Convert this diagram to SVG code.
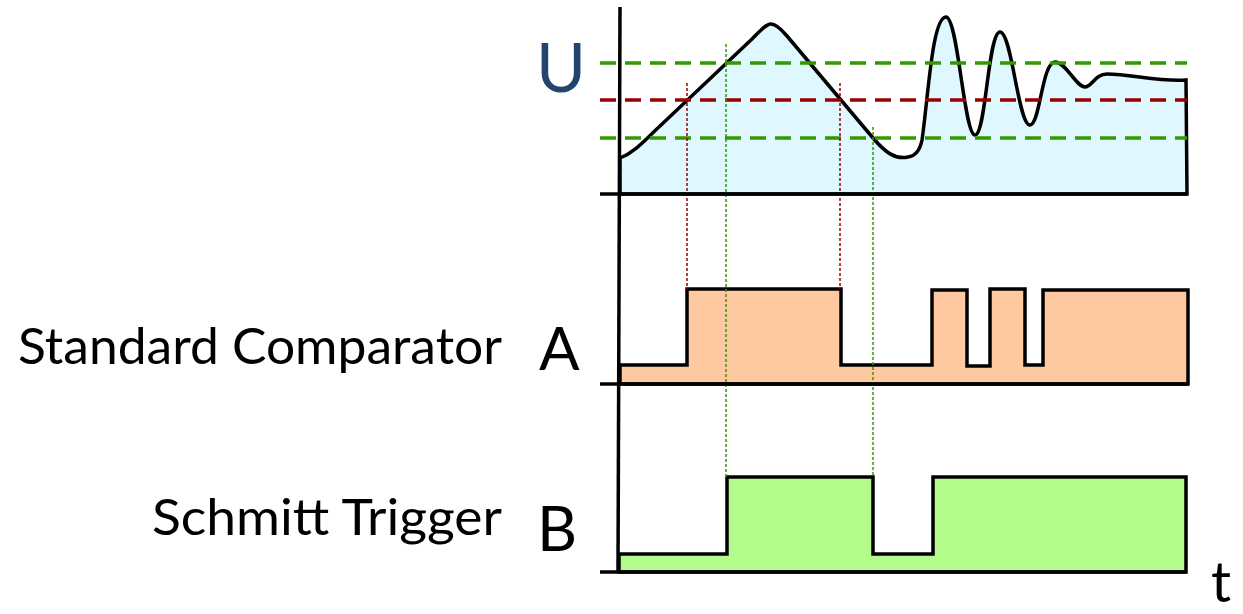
<svg xmlns="http://www.w3.org/2000/svg" width="1243" height="614" viewBox="0 0 1243 614">
<style>
.lbl{font-family:Lato,"Noto Sans",sans-serif;fill:#000}
.ax{stroke:#000;stroke-width:3.5;fill:none}
.wave{stroke:#000;stroke-width:3.5;stroke-linejoin:miter}
.hg{stroke:#339900;stroke-width:3.5;stroke-dasharray:16 9;fill:none}
.hr{stroke:#990000;stroke-width:3.5;stroke-dasharray:16 9;fill:none}
.vg{stroke:#339900;stroke-width:1.5;stroke-dasharray:3 2;fill:none}
.vr{stroke:#990000;stroke-width:1.5;stroke-dasharray:3 2;fill:none}
</style>
<rect width="1243" height="614" fill="#fff"/>
<g id="plot-U">
<path class="wave" fill="#dff7ff" d="M620,158 C635,152 645,140 660,126 L752,39 C760,31 766,24 771,24 C776,24 781,29 787,36 L873,138 C885,152 895,160 908,157 C916,156 920,150 922,140 C928,100 932,17 946,17 C958,17 964,135 975,135 C986,135 988,32 1000,32 C1012,32 1018,125 1030,125 C1040,125 1042,62 1055,62 C1066,62 1076,87 1085,87 C1092,87 1095,74 1107,74 C1130,74 1160,82 1186,80 L1187,194 L620,194 Z"/>
</g>
<g id="plot-A">
<path class="wave" fill="#fec8a0" d="M620,384 L620,365 L687,365 L687,289 L841,289 L841,365 L932,365 L932,290 L967,290 L967,366 L990,366 L990,289 L1025,289 L1025,365 L1043,365 L1043,290 L1188,290 L1188,384 Z"/>
</g>
<g id="plot-B">
<path class="wave" fill="#b3fc8c" d="M619,572 L619,554 L727,554 L727,477 L873,477 L873,554 L933,554 L933,477 L1186,477 L1186,572 Z"/>
</g>
<g id="thresholds">
<line class="hg" x1="600" y1="63" x2="1187" y2="63"/>
<line class="hr" x1="600" y1="100" x2="1187" y2="100"/>
<line class="hg" x1="600" y1="138" x2="1187" y2="138"/>
</g>
<g id="connectors">
<line class="vr" x1="687" y1="83" x2="687" y2="289"/>
<line class="vr" x1="840" y1="83" x2="840" y2="289"/>
<line class="vg" x1="726" y1="44" x2="726" y2="477"/>
<line class="vg" x1="873" y1="127" x2="873" y2="477"/>
</g>
<g id="axes">
<line class="ax" x1="620" y1="7" x2="618" y2="572"/>
<line class="ax" x1="600" y1="194" x2="1187" y2="194"/>
<line class="ax" x1="600" y1="384" x2="1188" y2="384"/>
<line class="ax" x1="600" y1="572" x2="1186" y2="572"/>
</g>
<g id="labels">
<text class="lbl" x="536" y="92" font-size="68" style="fill:#23446f">U</text>
<text class="lbl" x="539" y="370" font-size="60">A</text>
<text class="lbl" x="537" y="551" font-size="62">B</text>
<text class="lbl" x="1211" y="602" font-size="56">t</text>
<text class="lbl" x="18" y="364" font-size="50" textLength="484" lengthAdjust="spacingAndGlyphs">Standard Comparator</text>
<text class="lbl" x="152" y="535" font-size="50" textLength="350" lengthAdjust="spacingAndGlyphs">Schmitt Trigger</text>
</g>
</svg>
